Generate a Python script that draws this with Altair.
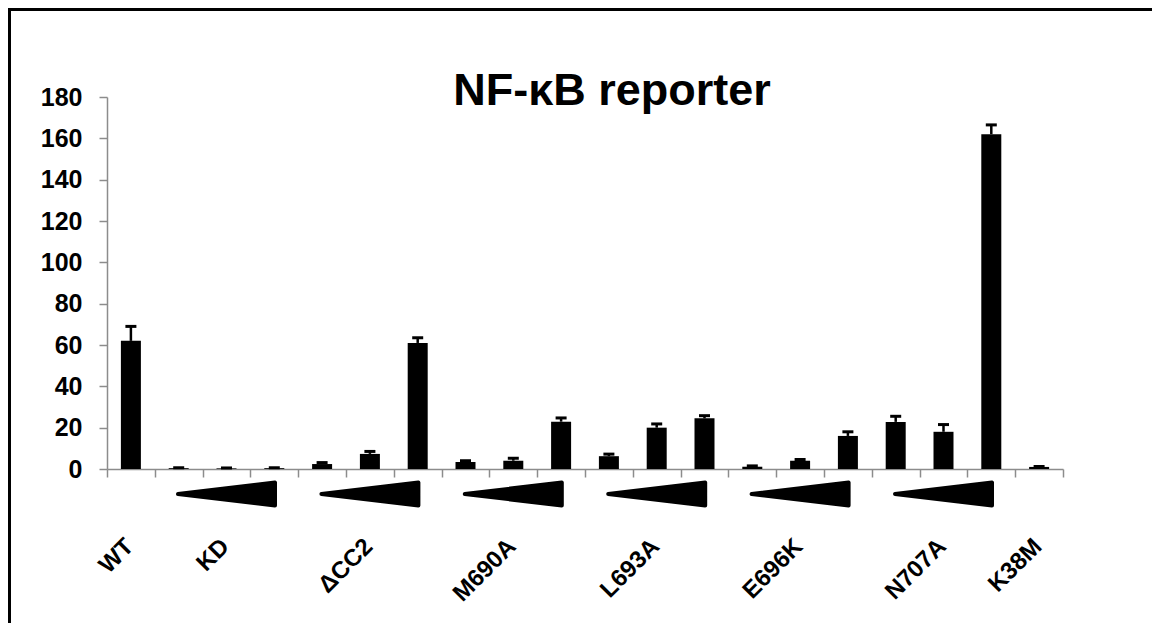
import altair as alt
import pandas as pd

# ---- data ----
bar_ids = ["WT",
           "KD 1", "KD 2", "KD 3",
           "ΔCC2 1", "ΔCC2 2", "ΔCC2 3",
           "M690A 1", "M690A 2", "M690A 3",
           "L693A 1", "L693A 2", "L693A 3",
           "E696K 1", "E696K 2", "E696K 3",
           "N707A 1", "N707A 2", "N707A 3",
           "K38M"]
values = [62, 0.4, 0.3, 0.4,
          2.4, 7.3, 61,
          3.4, 4.0, 22.9,
          6.2, 20.0, 24.5,
          1.1, 4.0, 16.0,
          22.8, 18.0, 162,
          1.0]
err_top = [69, 0.6, 0.5, 0.6,
           3.1, 8.5, 63.5,
           4.0, 5.2, 24.7,
           7.2, 21.8, 25.8,
           1.5, 4.6, 18.0,
           25.5, 21.5, 166.5,
           1.2]
group_names = ["WT", "KD", "ΔCC2", "M690A", "L693A", "E696K", "N707A", "K38M"]
group_label_bar = [0, 2, 5, 8, 11, 14, 17, 19]
wedge_groups = ["KD", "ΔCC2", "M690A", "L693A", "E696K", "N707A"]
wedge_bar = [2, 5, 8, 11, 14, 17]
title_text = "NF-κB reporter"
y_ticks = list(range(0, 181, 20))

bars_df = pd.DataFrame({"bar": bar_ids, "value": values, "err": err_top})
labels_df = pd.DataFrame({"bar": [bar_ids[i] for i in group_label_bar], "name": group_names})
wedge_df = pd.DataFrame({"bar": [bar_ids[i] for i in wedge_bar], "group": wedge_groups})
title_df = pd.DataFrame({"t": [title_text]})
one_df = pd.DataFrame({"f": [0]})

FONT = "Liberation Sans"
GRAY = "#8c8c8c"
W, H = 956, 372

xenc = alt.X("bar:N", sort=bar_ids, title=None,
             scale=alt.Scale(domain=bar_ids, paddingInner=0, paddingOuter=0))

bars = alt.Chart(bars_df).mark_bar(width=20, color="black").encode(
    x=xenc,
    y=alt.Y("value:Q", title=None, scale=alt.Scale(domain=[0, 180], nice=False),
            axis=alt.Axis(values=y_ticks)),
)
stems = alt.Chart(bars_df).mark_rule(color="black", strokeWidth=2.5).encode(
    x=xenc, y=alt.Y("value:Q", title=None), y2="err:Q")
caps = alt.Chart(bars_df).mark_tick(color="black", size=11, thickness=3, opacity=1).encode(
    x=xenc, y=alt.Y("err:Q", title=None))

wedge_path = "M -1 0 L 1 -0.237 L 1 0.237 Z"
wedges = alt.Chart(wedge_df).mark_point(
    shape=wedge_path, size=9409, filled=True, fill="black", stroke="black",
    strokeWidth=4, strokeJoin="round", opacity=1
).encode(x=xenc, y=alt.value(397))

labels = alt.Chart(labels_df).mark_text(
    angle=315, align="right", baseline="alphabetic", font=FONT, fontSize=24,
    fontWeight="bold", color="black", xOffset=4
).encode(x=xenc, y=alt.value(451), text="name:N")

title = alt.Chart(title_df).mark_text(
    font=FONT, fontSize=45, fontWeight="bold", color="black",
    align="center", baseline="alphabetic"
).encode(x=alt.value(505), y=alt.value(8), text="t:N")

frame_top = alt.Chart(one_df).mark_rule(color="black", strokeWidth=3).encode(
    x=alt.value(-99), x2=alt.value(1050), y=alt.value(-87.5))
frame_left = alt.Chart(one_df).mark_rule(color="black", strokeWidth=3).encode(
    x=alt.value(-97.5), y=alt.value(-89), y2=alt.value(540))

chart = alt.layer(
    bars, stems, caps, wedges, labels, title, frame_top, frame_left
).properties(
    width=W, height=H,
    autosize=alt.AutoSizeParams(type="none"),
    padding={"left": 99, "top": 89, "right": 89, "bottom": 154},
).configure_view(stroke=None).configure_axisX(
    labels=False, tickBand="extent", tickSize=8, tickColor=GRAY, tickWidth=1.5,
    domainColor=GRAY, domainWidth=1.5, grid=False
).configure_axisY(
    grid=False, tickSize=8, tickColor=GRAY, tickWidth=1.5, domainColor=GRAY,
    domainWidth=1.5, labelFont=FONT, labelFontSize=25, labelFontWeight="bold",
    labelColor="black", labelPadding=17
)

chart.save("out.html", embed_options={"renderer": "svg", "actions": False})
